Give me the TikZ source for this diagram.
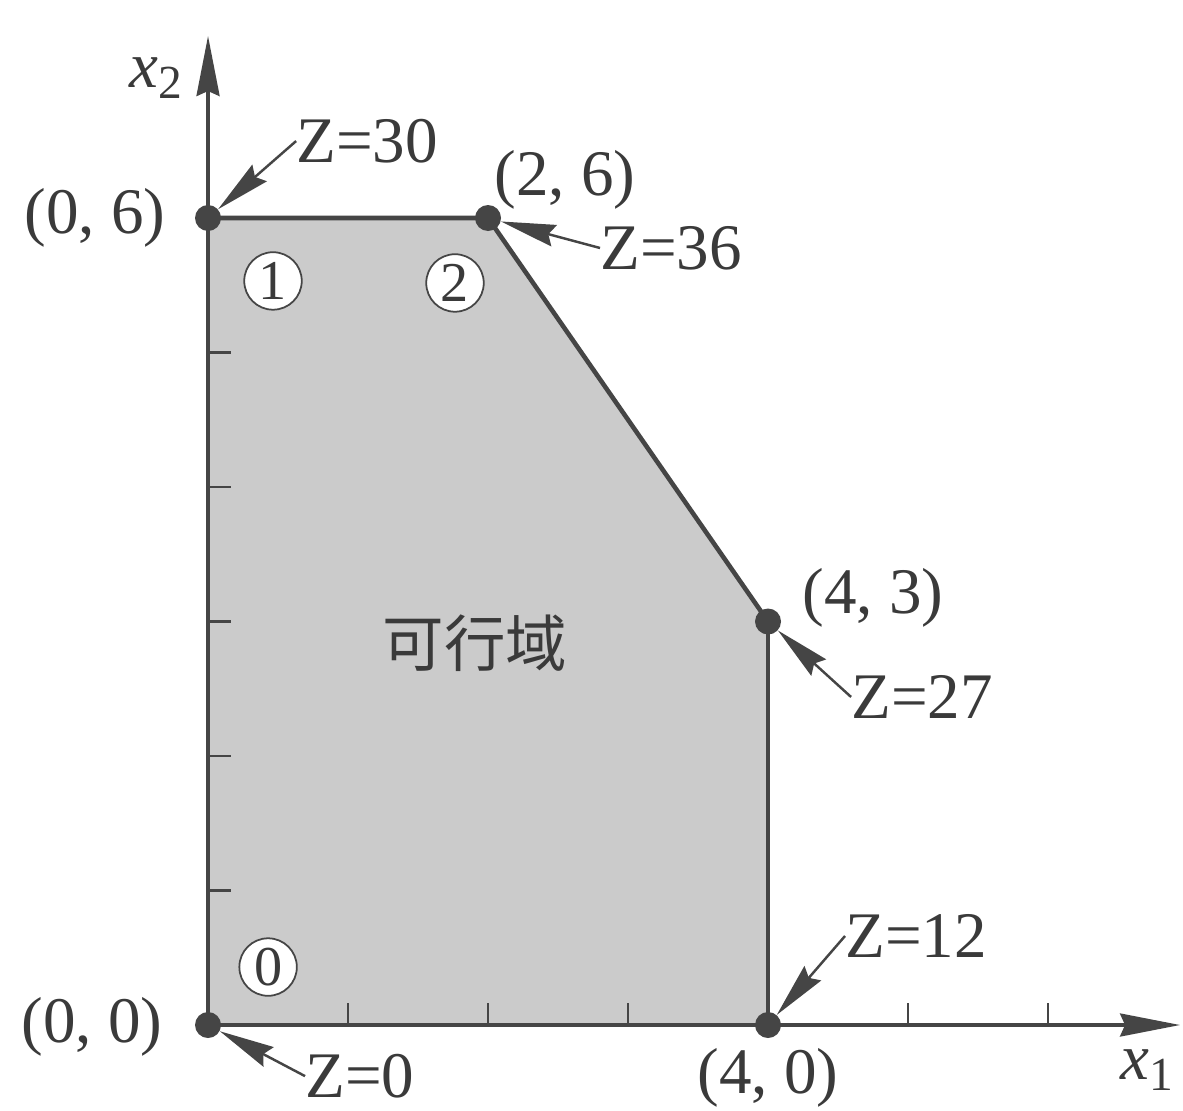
\documentclass[tikz,border=0pt]{standalone}
\usepackage{fontspec}
\setmainfont{Liberation Serif}
\newfontfamily\cjk{Noto Sans CJK SC}
\usepackage{xcolor}
\definecolor{cLine}{HTML}{454545}
\definecolor{cText}{HTML}{3A3A3A}
\definecolor{cFill}{HTML}{CBCBCB}
\usepackage{tikz}
\usetikzlibrary{arrows.meta}
\tikzset{
  label-text/.style={inner sep=0pt,text=cText,font=\fontsize{37}{40}\selectfont},
  label-cjk/.style={inner sep=0pt,text=cText,font=\cjk\fontsize{35}{40}\selectfont},
  label-circ/.style={draw=cLine,line width=1pt,circle,fill=white,minimum size=11.5mm,
    inner sep=0pt,text=cText,font=\fontsize{32}{36}\selectfont},
  vertex-dot/.style={circle,fill=cLine,minimum size=5.2mm,inner sep=0pt},
  region-fill/.style={fill=cFill},
  axis-line/.style={-{Stealth[length=12mm,width=4.6mm,inset=1mm]},line width=1.8pt,draw=cLine},
  axis-tick/.style={line width=1.6pt,draw=cLine},
  edge-bold/.style={line width=2.6pt,draw=cLine},
  edge-thin/.style={line width=1.8pt,draw=cLine},
  arrow-z/.style={-{Stealth[length=11mm,width=4.4mm,inset=1.2mm]},line width=1.4pt,draw=cLine},
}
\newcommand{\xsub}[1]{\textit{x}\raisebox{-0.35ex}{\fontsize{27}{30}\selectfont #1}}

\begin{document}
\begin{tikzpicture}[x=2.8cm,y=2.69cm]
  \useasboundingbox (-1.486,-0.639) rectangle (6.964,7.621);
  % 顶点
  \coordinate (v00) at (0,0);
  \coordinate (v06) at (0,6);
  \coordinate (v26) at (2,6);
  \coordinate (v43) at (4,3);
  \coordinate (v40) at (4,0);
  \coordinate (xend) at (6.943,0);
  \coordinate (yend) at (0,7.353);

  % 可行域
  \fill[region-fill] (v00) -- (v06) -- (v26) -- (v43) -- (v40) -- cycle;
  \draw[axis-line] (v00) -- (xend);
  \draw[axis-line] (v00) -- (yend);
  \foreach \k in {1,...,5} \draw[axis-tick] (0,\k) -- ++(0.164,0);
  \foreach \k in {1,2,3,5,6} \draw[axis-tick] (\k,0) -- ++(0,0.164);
  \draw[edge-bold] (v06) -- (v26) -- (v43);
  \draw[edge-thin] (v43) -- (v40);

  \node[vertex-dot] (p00) at (v00) {};
  \node[vertex-dot] (p06) at (v06) {};
  \node[vertex-dot] (p26) at (v26) {};
  \node[vertex-dot] (p43) at (v43) {};
  \node[vertex-dot] (p40) at (v40) {};

  \node[label-text] (lx1) at (6.707,-0.335) {\xsub{1}};
  \node[label-text] (lx2) at (-0.371,7.041) {\xsub{2}};

  \node[label-circ] (c0) at (0.429,0.431) {0};
  \node[label-circ] (c1) at (0.464,5.532) {1};
  \node[label-circ] (c2) at (1.764,5.517) {2};
  \node[label-cjk] (region) at (1.907,2.840) {可行域};

  % 坐标
  \node[label-text] (l00) at (-0.829,-0.015) {(0, 0)};
  \node[label-text] (l06) at (-0.807,6.0) {(0, 6)};
  \node[label-text] (l26) at (2.55,6.283) {(2, 6)};
  \node[label-text] (l43) at (4.75,3.175) {(4, 3)};
  \node[label-text] (l40) at (4.0,-0.395) {(4, 0)};

  % 目标值
  \node[label-text,anchor=west] (z00) at (0.693,-0.38) {Z=0};
  \node[label-text,anchor=west] (z30) at (0.629,6.572) {Z=30};
  \node[label-text,anchor=west] (z36) at (2.8,5.777) {Z=36};
  \node[label-text,anchor=west] (z27) at (4.593,2.439) {Z=27};
  \node[label-text,anchor=west] (z12) at (4.55,0.662) {Z=12};
  \draw[arrow-z] (z00.west) -- (p00);
  \draw[arrow-z] (z30.west) -- (p06);
  \draw[arrow-z] (z36.west) -- (p26);
  \draw[arrow-z] (z27.west) -- (p43);
  \draw[arrow-z] (z12.west) -- (p40);
\end{tikzpicture}
\end{document}
